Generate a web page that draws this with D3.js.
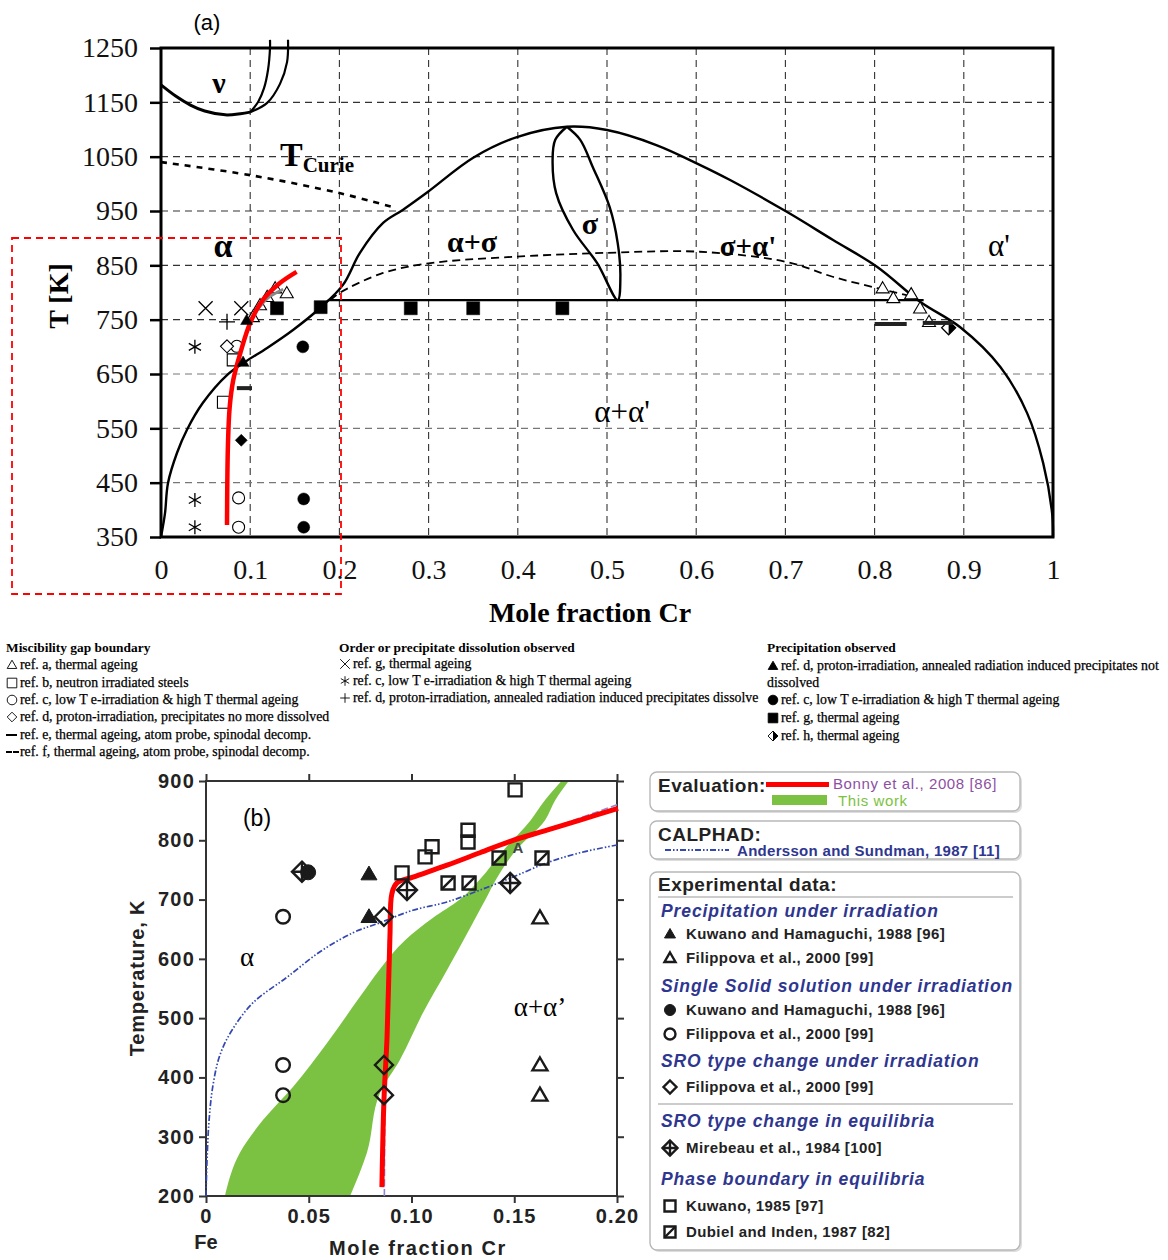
<!DOCTYPE html>
<html>
<head>
<meta charset="utf-8">
<script src="https://cdn.jsdelivr.net/npm/d3@7"></script>
<style>
  body { margin: 0; background: #fff; }
  svg { display: block; }
</style>
</head>
<body>
<div id="chart"></div>
<script>
// ---------- panel (a) data : mole fraction Cr, T [K] ----------
const xTicksA = [0, 0.1, 0.2, 0.3, 0.4, 0.5, 0.6, 0.7, 0.8, 0.9, 1];
const xTickLabelsA = ['0', '0.1', '0.2', '0.3', '0.4', '0.5', '0.6', '0.7', '0.8', '0.9', '1'];
const yTicksA = [350, 450, 550, 650, 750, 850, 950, 1050, 1150, 1250];

const gammaArc = [[0, 1182], [0.016, 1162], [0.033, 1145], [0.049, 1134], [0.072, 1127], [0.089, 1129], [0.1, 1132]];
const gammaInner = [[0.1, 1132], [0.109, 1151], [0.1155, 1176], [0.12, 1210], [0.1222, 1250], [0.1222, 1265]];
const gammaOuter = [[0.1, 1132], [0.119, 1149], [0.1334, 1184], [0.1413, 1224], [0.1424, 1265]];
const curieLine = [[0, 1040], [0.1, 1016], [0.2, 983], [0.26, 957]];
const gapCurve = [[0, 350], [0.0045, 394], [0.0078, 449], [0.018, 505], [0.029, 547], [0.047, 597], [0.074, 648],
  [0.094, 672], [0.119, 698], [0.148, 731], [0.178, 771], [0.204, 814], [0.223, 873], [0.249, 928], [0.271, 952],
  [0.299, 985], [0.35, 1048], [0.399, 1086], [0.455, 1105], [0.5, 1099], [0.556, 1071], [0.604, 1035], [0.638, 1007],
  [0.702, 948], [0.753, 897], [0.803, 847], [0.851, 783], [0.896, 736], [0.941, 663], [0.971, 578], [0.989, 486],
  [0.999, 394], [1, 350]];
const sigmaLoop = [[0.455, 1105], [0.442, 1081], [0.439, 1044], [0.443, 983], [0.462, 915], [0.489, 854], [0.512, 786],
  [0.515, 829], [0.512, 891], [0.503, 957], [0.484, 1031], [0.47, 1081], [0.455, 1105]];
const eutectoid = [[0.187, 786], [0.855, 786]];
const metastable = [[0.19, 786], [0.2, 799], [0.249, 836], [0.302, 854], [0.388, 865], [0.5, 873], [0.604, 875],
  [0.702, 856], [0.753, 829], [0.803, 808], [0.836, 795]];
const bonnyA = [[0.074, 372], [0.075, 516], [0.077, 589], [0.081, 639], [0.089, 689], [0.1, 744], [0.114, 786],
  [0.133, 817], [0.152, 838]];
const grayShadowA = [[0.098, 745], [0.108, 768], [0.12, 790], [0.137, 806]];

const triOpenA = [[0.103, 755], [0.111, 777], [0.119, 792], [0.128, 808], [0.141, 799],
  [0.809, 808], [0.821, 790], [0.841, 797], [0.851, 771], [0.861, 746]];
const sqOpenA = [[0.07, 598], [0.081, 676]];
const circOpenA = [[0.087, 422], [0.087, 368], [0.085, 701]];
const diaOpenA = [[0.074, 701]];
const barRefE = [[0.085, 0.102, 624], [0.80, 0.836, 742]];
const barRefF = [[0.854, 0.888, 744]];
const timesA = [[0.05, 771], [0.09, 771]];
const asteriskA = [[0.038, 700], [0.038, 418], [0.038, 368]];
const plusA = [[0.074, 746]];
const triFilledA = [[0.096, 749], [0.092, 672]];
const circFilledA = [[0.159, 700], [0.16, 420], [0.16, 368]];
const sqFilledA = [[0.13, 771], [0.179, 773], [0.28, 771], [0.35, 771], [0.45, 771]];
const diaFilledA = [[0.09, 528]];
const diaHalfA = [[0.883, 735]];

const legendA = [
  { title: 'Miscibility gap boundary', items: [
    ['tri', 'ref. a, thermal ageing'],
    ['sq', 'ref. b, neutron irradiated steels'],
    ['circ', 'ref. c, low T e-irradiation & high T thermal ageing'],
    ['dia', 'ref. d, proton-irradiation, precipitates no more dissolved'],
    ['bar', 'ref. e, thermal ageing, atom probe, spinodal decomp.'],
    ['dbar', 'ref. f, thermal ageing, atom probe, spinodal decomp.']] },
  { title: 'Order or precipitate dissolution observed', items: [
    ['x', 'ref. g, thermal ageing'],
    ['ast', 'ref. c, low T e-irradiation & high T thermal ageing'],
    ['plus', 'ref. d, proton-irradiation, annealed radiation induced precipitates dissolve']] },
  { title: 'Precipitation observed', items: [
    ['triF', 'ref. d, proton-irradiation, annealed radiation induced precipitates not'],
    [null, 'dissolved'],
    ['circF', 'ref. c, low T e-irradiation & high T thermal ageing'],
    ['sqF', 'ref. g, thermal ageing'],
    ['diaH', 'ref. h, thermal ageing']] }
];

// ---------- panel (b) data ----------
const xTicksB = [0, 0.05, 0.10, 0.15, 0.20];
const xTickLabelsB = ['0', '0.05', '0.10', '0.15', '0.20'];
const yTicksB = [200, 300, 400, 500, 600, 700, 800, 900];

const greenUpper = [[0.0092, 200], [0.0165, 273], [0.0277, 328], [0.0423, 384], [0.0589, 458], [0.0749, 536],
  [0.0847, 583], [0.097, 632], [0.11, 668], [0.1235, 700], [0.133, 733], [0.145, 784], [0.158, 834],
  [0.165, 868], [0.173, 900]];
const greenLower = [[0.0701, 200], [0.0783, 273], [0.0847, 374], [0.0944, 430], [0.1056, 509], [0.1173, 581],
  [0.1299, 661], [0.136, 700], [0.141, 733], [0.151, 784], [0.165, 834], [0.17, 868], [0.1765, 900]];
const calphad = [[0, 200], [0.0005, 261], [0.0015, 328], [0.0034, 387], [0.0068, 438], [0.0127, 480], [0.0229, 526],
  [0.0394, 569], [0.0555, 612], [0.0715, 644], [0.0847, 661], [0.1007, 682], [0.1173, 696], [0.1333, 716],
  [0.1494, 738], [0.1659, 762], [0.182, 779], [0.2, 792]];
const calphadSpinodal = [[0.0868, 200], [0.0872, 400], [0.0885, 600], [0.0905, 700], [0.094, 728], [0.11, 748],
  [0.15, 800], [0.18, 835], [0.2, 860]];
const bonnyB = [[0.0856, 215], [0.0866, 362], [0.0881, 468], [0.0895, 637], [0.0905, 711], [0.0929, 728],
  [0.1007, 738], [0.1173, 758], [0.1333, 779], [0.1494, 800], [0.1659, 817], [0.182, 834], [0.2005, 854]];

const triFilledB = [[0.0793, 743], [0.0793, 671]];
const triOpenB = [[0.1625, 669], [0.1625, 421], [0.1625, 370]];
const circFilledB = [[0.0497, 746]];
const circOpenB = [[0.0375, 671], [0.0375, 421], [0.0375, 370]];
const diaOpenB = [[0.0866, 671], [0.0866, 421], [0.0866, 370]];
const diaCrossB = [[0.0467, 747], [0.0978, 716], [0.148, 728]];
const sqOpenB = [[0.0954, 745], [0.1066, 772], [0.11, 789], [0.1275, 797], [0.1275, 817], [0.1504, 885]];
const sqSlashB = [[0.1178, 728], [0.128, 728], [0.1426, 770], [0.1635, 770]];

const legendB = [
  { head: 'Precipitation under irradiation', items: [['triF', 'Kuwano and Hamaguchi, 1988 [96]'], ['tri', 'Filippova et al., 2000 [99]']] },
  { head: 'Single Solid solution under irradiation', items: [['circF', 'Kuwano and Hamaguchi, 1988 [96]'], ['circ', 'Filippova et al., 2000 [99]']] },
  { head: 'SRO type change under irradiation', items: [['dia', 'Filippova et al., 2000 [99]']] },
  { head: 'SRO type change in equilibria', items: [['diaX', 'Mirebeau et al., 1984 [100]']] },
  { head: 'Phase boundary in equilibria', items: [['sq', 'Kuwano, 1985 [97]'], ['sqS', 'Dubiel and Inden, 1987 [82]']] }
];

// ---------- helpers ----------
const SERIF = '"Liberation Serif", "Times New Roman", serif';
const SANS = '"Liberation Sans", Arial, sans-serif';

function symPath(type, r) {
  switch (type) {
    case 'tri': case 'triF':
      return `M0,${-r}L${r},${r * 0.72}L${-r},${r * 0.72}Z`;
    case 'sq': case 'sqF': case 'sqS':
      return `M${-r},${-r}h${2 * r}v${2 * r}h${-2 * r}Z`;
    case 'circ': case 'circF':
      return `M${r},0A${r},${r} 0 1,1 ${-r},0A${r},${r} 0 1,1 ${r},0Z`;
    case 'dia': case 'diaF': case 'diaX': case 'diaH':
      return `M0,${-r}L${r},0L0,${r}L${-r},0Z`;
    case 'x':
      return `M${-r},${-r}L${r},${r}M${-r},${r}L${r},${-r}`;
    case 'plus':
      return `M${-r},0H${r}M0,${-r}V${r}`;
    case 'ast': {
      const a = r * 0.87, b = r * 0.5;
      return `M0,${-r}V${r}M${-a},${-b}L${a},${b}M${-a},${b}L${a},${-b}`;
    }
  }
  return '';
}

function drawMarks(g, data, x, y, type, r, opts) {
  const o = Object.assign({ fill: 'none', stroke: '#000', sw: 1.2 }, opts);
  const sel = g.append('g').selectAll('g').data(data).join('g')
    .attr('transform', d => `translate(${x(d[0])},${y(d[1])})`);
  sel.append('path')
    .attr('d', symPath(type, r))
    .attr('fill', o.fill)
    .attr('stroke', o.stroke)
    .attr('stroke-width', o.sw)
    .attr('stroke-linejoin', 'miter');
  if (type === 'diaX') {
    sel.append('path').attr('d', `M${-r},0H${r}M0,${-r}V${r}`)
      .attr('stroke', o.stroke).attr('stroke-width', o.sw);
  }
  if (type === 'sqS') {
    sel.append('path').attr('d', `M${-r},${r}L${r},${-r}`)
      .attr('stroke', o.stroke).attr('stroke-width', o.sw);
  }
  if (type === 'diaH') {
    sel.append('path').attr('d', `M0,${-r}L${r},0L0,${r}Z`).attr('fill', o.stroke);
  }
  return sel;
}

function label(g, x, y, txt, size, opts) {
  const o = Object.assign({ family: SERIF, weight: 'normal', anchor: 'middle', fill: '#000' }, opts);
  return g.append('text').attr('x', x).attr('y', y).attr('text-anchor', o.anchor)
    .attr('font-family', o.family).attr('font-size', size).attr('font-weight', o.weight)
    .attr('fill', o.fill).text(txt);
}

const svg = d3.select('#chart').append('svg')
  .attr('width', 1168).attr('height', 1260)
  .style('background', '#fff');

// =================== panel (a) ===================
const xA = d3.scaleLinear().domain([0, 1]).range([161, 1053]);
const yA = d3.scaleLinear().domain([350, 1250]).range([537, 48]);
const gA = svg.append('g');
const lineA = d3.line().x(d => xA(d[0])).y(d => yA(d[1])).curve(d3.curveCatmullRom.alpha(0.5));

// dashed grid
gA.append('g').selectAll('line').data(xTicksA.slice(1, -1)).join('line')
  .attr('x1', d => xA(d)).attr('x2', d => xA(d)).attr('y1', yA(1250)).attr('y2', yA(350))
  .attr('stroke', '#333').attr('stroke-width', 1.1).attr('stroke-dasharray', '7,5');
gA.append('g').selectAll('line').data(yTicksA.slice(1, -1)).join('line')
  .attr('x1', xA(0)).attr('x2', xA(1)).attr('y1', d => yA(d)).attr('y2', d => yA(d))
  .attr('stroke', d => d < 700 ? '#777' : '#333').attr('stroke-width', 1.1).attr('stroke-dasharray', '7,5');

// axes
const axLeftA = gA.append('g').attr('transform', `translate(${xA(0)},0)`)
  .call(d3.axisLeft(yA).tickValues(yTicksA).tickSize(11).tickPadding(12).tickFormat(d3.format('d')));
const axBotA = gA.append('g').attr('transform', `translate(0,${yA(350)})`)
  .call(d3.axisBottom(xA).tickValues(xTicksA).tickSize(0).tickPadding(22).tickFormat((d, i) => xTickLabelsA[i]));
[axLeftA, axBotA].forEach(ax => {
  ax.select('.domain').remove();
  ax.selectAll('line').attr('stroke', '#000').attr('stroke-width', 2.5);
  ax.selectAll('text').attr('font-family', SERIF).attr('font-size', 28).attr('fill', '#111');
});

// frame
gA.append('rect').attr('x', xA(0)).attr('y', yA(1250)).attr('width', xA(1) - xA(0)).attr('height', yA(350) - yA(1250))
  .attr('fill', 'none').attr('stroke', '#000').attr('stroke-width', 3);

// phase boundaries
gA.append('path').attr('d', lineA(gammaArc)).attr('fill', 'none').attr('stroke', '#000').attr('stroke-width', 3);
gA.append('path').attr('d', lineA(gammaInner)).attr('fill', 'none').attr('stroke', '#000').attr('stroke-width', 2.2);
gA.append('path').attr('d', lineA(gammaOuter)).attr('fill', 'none').attr('stroke', '#000').attr('stroke-width', 2.2);
gA.append('path').attr('d', lineA(curieLine)).attr('fill', 'none').attr('stroke', '#000')
  .attr('stroke-width', 2.6).attr('stroke-dasharray', '6,6');
gA.append('path').attr('d', lineA(gapCurve)).attr('fill', 'none').attr('stroke', '#000').attr('stroke-width', 2.4);
gA.append('path').attr('d', lineA(sigmaLoop)).attr('fill', 'none').attr('stroke', '#000').attr('stroke-width', 2.4);
gA.append('path').attr('d', d3.line().x(d => xA(d[0])).y(d => yA(d[1]))(eutectoid))
  .attr('fill', 'none').attr('stroke', '#000').attr('stroke-width', 2.4);
gA.append('path').attr('d', lineA(metastable)).attr('fill', 'none').attr('stroke', '#000')
  .attr('stroke-width', 1.8).attr('stroke-dasharray', '8,5');

// markers (a)
drawMarks(gA, triOpenA, xA, yA, 'tri', 6.5, { fill: '#fff', sw: 1.1 });
drawMarks(gA, sqOpenA, xA, yA, 'sq', 6, { fill: '#fff', sw: 1.1 });
drawMarks(gA, circOpenA, xA, yA, 'circ', 6, { fill: '#fff', sw: 1.1 });
drawMarks(gA, diaOpenA, xA, yA, 'dia', 6.5, { fill: '#fff', sw: 1.1 });
drawMarks(gA, timesA, xA, yA, 'x', 7, { sw: 1.3 });
drawMarks(gA, asteriskA, xA, yA, 'ast', 7, { sw: 1.3 });
drawMarks(gA, plusA, xA, yA, 'plus', 8, { sw: 1.3 });
drawMarks(gA, circFilledA, xA, yA, 'circF', 6, { fill: '#000', sw: 0.5 });
drawMarks(gA, sqFilledA, xA, yA, 'sqF', 6.5, { fill: '#000', sw: 0.5 });
drawMarks(gA, diaFilledA, xA, yA, 'diaF', 6, { fill: '#000', sw: 0.5 });
drawMarks(gA, diaHalfA, xA, yA, 'diaH', 7, { fill: '#fff', sw: 1.3 });
gA.append('g').selectAll('line').data(barRefE.concat(barRefF)).join('line')
  .attr('x1', d => xA(d[0])).attr('x2', d => xA(d[1])).attr('y1', d => yA(d[2])).attr('y2', d => yA(d[2]))
  .attr('stroke', '#222').attr('stroke-width', 4);

// Bonny et al. curve (a)
gA.append('path').attr('d', lineA(grayShadowA)).attr('fill', 'none').attr('stroke', '#888').attr('stroke-width', 3);
gA.append('path').attr('d', lineA(bonnyA)).attr('fill', 'none').attr('stroke', '#f00')
  .attr('stroke-width', 4.5).attr('stroke-linecap', 'butt');
drawMarks(gA, triFilledA, xA, yA, 'triF', 6, { fill: '#000', sw: 0.5 });

// red dashed zoom window
gA.append('rect').attr('x', 12).attr('y', 238).attr('width', 329).attr('height', 356)
  .attr('fill', 'none').attr('stroke', '#f00').attr('stroke-width', 1.8).attr('stroke-dasharray', '7,5');

// labels (a)
label(gA, 207, 30, '(a)', 22, { family: SANS });
label(gA, 219, 93, 'ν', 30, { weight: 'bold' });
const tc = gA.append('text').attr('x', 280).attr('y', 166).attr('font-family', SERIF).attr('font-weight', 'bold');
tc.append('tspan').attr('font-size', 34).text('T');
tc.append('tspan').attr('font-size', 21).attr('dy', 6).text('Curie');
label(gA, 223, 257, 'α', 34, { weight: 'bold' });
label(gA, 472, 252, 'α+σ', 30, { weight: 'bold' });
label(gA, 590, 234, 'σ', 30, { weight: 'bold' });
label(gA, 748, 256, 'σ+α\'', 29, { weight: 'bold' });
label(gA, 999, 256, 'α\'', 31);
label(gA, 622, 422, 'α+α\'', 31);
label(gA, 590, 622, 'Mole fraction Cr', 28, { weight: 'bold' });
label(gA, 0, 0, 'T [K]', 28, { weight: 'bold' }).attr('transform', 'translate(68,296) rotate(-90)');

// legend (a)
const legXA = [6, 339, 767];
const legRows = [[669, 687, 704, 721, 739, 756], [668, 685, 702], [670, 687, 704, 722, 740]];
legendA.forEach((col, ci) => {
  const x0 = legXA[ci];
  label(gA, x0, 652, col.title, 13.4, { weight: 'bold', anchor: 'start' });
  col.items.forEach((it, ri) => {
    const yb = legRows[ci][ri];
    const t = it[0];
    const cx = x0 + 6, cy = yb - 4;
    if (t === 'bar') {
      gA.append('line').attr('x1', x0).attr('x2', x0 + 11).attr('y1', cy).attr('y2', cy).attr('stroke', '#000').attr('stroke-width', 2);
    } else if (t === 'dbar') {
      gA.append('line').attr('x1', x0).attr('x2', x0 + 13).attr('y1', cy).attr('y2', cy)
        .attr('stroke', '#000').attr('stroke-width', 2).attr('stroke-dasharray', '6,1');
    } else if (t) {
      const filled = /F$/.test(t);
      drawMarks(gA, [[cx, cy]], d => d, d => d, t, t === 'diaH' ? 5 : 4.8,
        { fill: filled ? '#000' : (t === 'diaH' ? '#fff' : 'none'), sw: 0.9 });
    }
    label(gA, t ? x0 + 14 : x0, yb, it[1], 13.8, { anchor: 'start' })
      .attr('stroke', '#000').attr('stroke-width', 0.25);
  });
});

// =================== panel (b) ===================
const xB = d3.scaleLinear().domain([0, 0.2]).range([206, 617]);
const yB = d3.scaleLinear().domain([200, 900]).range([1196, 781]);
const gB = svg.append('g');
const lineB = d3.line().x(d => xB(d[0])).y(d => yB(d[1])).curve(d3.curveCatmullRom.alpha(0.5));
const edgeB = d3.line().x(d => xB(d[0])).y(d => yB(d[1])).curve(d3.curveMonotoneY);

gB.append('path')
  .attr('d', edgeB(greenUpper) + 'L' + edgeB(greenLower.slice().reverse()).slice(1) + 'Z')
  .attr('fill', '#7cc242').attr('stroke', 'none');

const axL = gB.append('g').attr('transform', `translate(${xB(0)},0)`)
  .call(d3.axisLeft(yB).tickValues(yTicksB).tickSize(7).tickPadding(4));
const axR = gB.append('g').attr('transform', `translate(${xB(0.2)},0)`)
  .call(d3.axisRight(yB).tickValues(yTicksB).tickSize(7).tickFormat(''));
const axBt = gB.append('g').attr('transform', `translate(0,${yB(200)})`)
  .call(d3.axisBottom(xB).tickValues(xTicksB).tickSize(7).tickPadding(6).tickFormat((d, i) => xTickLabelsB[i]));
const axT = gB.append('g').attr('transform', `translate(0,${yB(900)})`)
  .call(d3.axisTop(xB).tickValues(xTicksB).tickSize(7).tickFormat(''));
[axL, axR, axBt, axT].forEach(ax => {
  ax.select('.domain').remove();
  ax.selectAll('line').attr('stroke', '#333').attr('stroke-width', 2);
  ax.selectAll('text').attr('font-family', SANS).attr('font-size', 20).attr('font-weight', 'bold')
    .attr('fill', '#222').attr('letter-spacing', 1.2);
});
gB.append('rect').attr('x', xB(0)).attr('y', yB(900)).attr('width', xB(0.2) - xB(0)).attr('height', yB(200) - yB(900))
  .attr('fill', 'none').attr('stroke', '#333').attr('stroke-width', 2);

gB.append('path').attr('d', lineB(calphadSpinodal)).attr('fill', 'none').attr('stroke', '#8f86d6')
  .attr('stroke-width', 1.6).attr('stroke-dasharray', '7,3');
gB.append('path').attr('d', lineB(calphad)).attr('fill', 'none').attr('stroke', '#3347b0')
  .attr('stroke-width', 1.7).attr('stroke-dasharray', '6,2,1.5,2,1.5,2');
gB.append('path').attr('d', lineB(bonnyB)).attr('fill', 'none').attr('stroke', '#f00').attr('stroke-width', 5);

const mk = { stroke: '#1a1a1a', sw: 2.4 };
drawMarks(gB, triFilledB, xB, yB, 'triF', 8, { fill: '#1a1a1a', stroke: '#1a1a1a', sw: 1 });
drawMarks(gB, triOpenB, xB, yB, 'tri', 7.5, Object.assign({ fill: 'none' }, mk));
drawMarks(gB, circOpenB, xB, yB, 'circ', 6.8, Object.assign({ fill: 'none' }, mk));
drawMarks(gB, diaOpenB, xB, yB, 'dia', 9, Object.assign({ fill: 'none' }, mk));
drawMarks(gB, diaCrossB, xB, yB, 'diaX', 10, Object.assign({ fill: 'none' }, mk));
drawMarks(gB, circFilledB, xB, yB, 'circF', 7.5, { fill: '#1a1a1a', stroke: '#1a1a1a', sw: 1 });
drawMarks(gB, sqOpenB, xB, yB, 'sq', 6.5, Object.assign({ fill: 'none' }, mk));
drawMarks(gB, sqSlashB, xB, yB, 'sqS', 6.5, Object.assign({ fill: 'none' }, mk));
label(gB, 518, 853, 'A', 15, { family: SANS, weight: 'bold', fill: '#444' });

label(gB, 257, 826, '(b)', 23, { family: SANS });
label(gB, 247, 966, 'α', 27);
label(gB, 540, 1016, 'α+α’', 27);
label(gB, 206, 1249, 'Fe', 20, { family: SANS, weight: 'bold', fill: '#222' });
label(gB, 418, 1255, 'Mole fraction Cr', 20, { family: SANS, weight: 'bold', fill: '#222' }).attr('letter-spacing', 1.6);
label(gB, 0, 0, 'Temperature, K', 20, { family: SANS, weight: 'bold', fill: '#222' })
  .attr('letter-spacing', 0.8).attr('transform', 'translate(144,978) rotate(-90)');

// legend (b)
function box(y, h) {
  gB.append('rect').attr('x', 652).attr('y', y + 2).attr('width', 370).attr('height', h).attr('rx', 7)
    .attr('fill', '#ddd');
  gB.append('rect').attr('x', 650).attr('y', y).attr('width', 370).attr('height', h).attr('rx', 7)
    .attr('fill', '#fff').attr('stroke', '#b8b8b8').attr('stroke-width', 1.4);
}
box(772, 39);
box(821, 38);
box(872, 378);
label(gB, 658, 792, 'Evaluation:', 19, { family: SANS, weight: 'bold', anchor: 'start', fill: '#222' }).attr('letter-spacing', 0.5);
gB.append('rect').attr('x', 766).attr('y', 782).attr('width', 63).attr('height', 5).attr('fill', '#f00');
label(gB, 833, 789, 'Bonny et al., 2008 [86]', 15, { family: SANS, anchor: 'start', fill: '#8d4fa3' }).attr('letter-spacing', 0.6);
gB.append('rect').attr('x', 772).attr('y', 795).attr('width', 55).attr('height', 10).attr('fill', '#7cc242');
label(gB, 838, 806, 'This work', 15, { family: SANS, anchor: 'start', fill: '#7cc242' }).attr('letter-spacing', 0.6);
label(gB, 658, 841, 'CALPHAD:', 19, { family: SANS, weight: 'bold', anchor: 'start', fill: '#222' }).attr('letter-spacing', 0.5);
gB.append('line').attr('x1', 665).attr('x2', 729).attr('y1', 850).attr('y2', 850)
  .attr('stroke', '#3347b0').attr('stroke-width', 2).attr('stroke-dasharray', '6,2,1.5,2,1.5,2');
label(gB, 737, 856, 'Andersson and Sundman, 1987 [11]', 15, { family: SANS, weight: 'bold', anchor: 'start', fill: '#2e3690' })
  .attr('letter-spacing', 0.3);
label(gB, 658, 891, 'Experimental data:', 19, { family: SANS, weight: 'bold', anchor: 'start', fill: '#222' }).attr('letter-spacing', 0.5);
gB.append('line').attr('x1', 658).attr('x2', 1013).attr('y1', 897).attr('y2', 897).attr('stroke', '#bbb').attr('stroke-width', 1.5);
gB.append('line').attr('x1', 658).attr('x2', 1013).attr('y1', 1104).attr('y2', 1104).attr('stroke', '#bbb').attr('stroke-width', 1.5);

const headY = [917, 992, 1067, 1127, 1185];
const itemY = [[939, 963], [1015, 1039], [1092], [1153], [1211, 1237]];
legendB.forEach((grp, gi) => {
  label(gB, 661, headY[gi], grp.head, 17.5, { family: SANS, weight: 'bold', anchor: 'start', fill: '#2e3690' })
    .attr('font-style', 'italic').attr('letter-spacing', 0.9);
  grp.items.forEach((it, ii) => {
    const yb = itemY[gi][ii];
    const t = it[0];
    const filled = /F$/.test(t);
    const r = t === 'diaX' ? 7.5 : (t === 'dia' ? 6.5 : 5.5);
    drawMarks(gB, [[670, yb - 5]], d => d, d => d, t, r,
      { fill: filled ? '#1a1a1a' : 'none', stroke: '#1a1a1a', sw: filled ? 1 : 2.4 });
    label(gB, 686, yb, it[1], 15, { family: SANS, weight: 'bold', anchor: 'start', fill: '#222' })
      .attr('letter-spacing', 0.4);
  });
});
</script>
</body>
</html>
